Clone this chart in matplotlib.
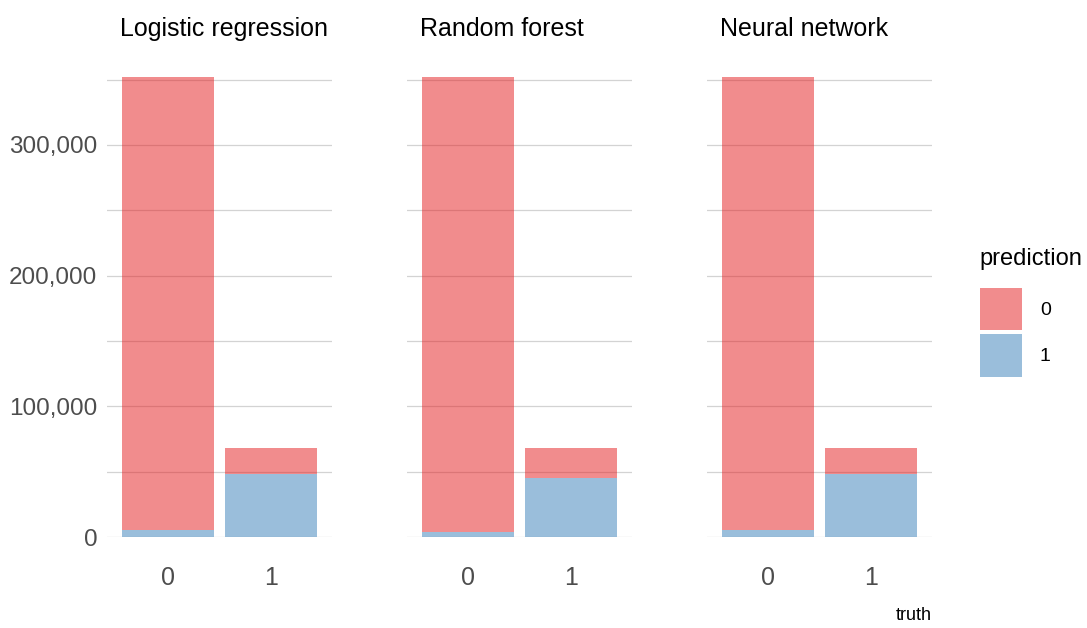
import numpy as np
import matplotlib.pyplot as plt
from matplotlib.patches import Patch
from matplotlib.ticker import FuncFormatter, MultipleLocator

# data
models = ['Logistic regression', 'Random forest', 'Neural network']
truth = ['0', '1']
pred0 = {  # count with prediction = 0, per truth class
    'Logistic regression': [346600, 19700],
    'Random forest': [348500, 22700],
    'Neural network': [346600, 19700],
}
pred1 = {  # count with prediction = 1, per truth class
    'Logistic regression': [5400, 48400],
    'Random forest': [3500, 45400],
    'Neural network': [5400, 48400],
}

RED = (0.894, 0.102, 0.110, 0.5)
BLUE = (0.216, 0.494, 0.722, 0.5)
GRID = '#d3d3d3'
FONT = ['Liberation Sans Narrow', 'Liberation Sans', 'DejaVu Sans']
plt.rcParams['font.family'] = FONT

W, H = 1087, 628
fig = plt.figure(figsize=(W / 100, H / 100), dpi=100)

ymax = 360000
y0_px = 537
px_per = 130.7 / 100000
top_px = y0_px - ymax * px_per
panel_left = [107, 407, 707]
panel_w = 225

x = np.arange(len(truth))
for i, m in enumerate(models):
    ax = fig.add_axes([panel_left[i] / W, 1 - y0_px / H, panel_w / W, (y0_px - top_px) / H])
    ax.bar(x, pred1[m], width=0.9, color=BLUE, linewidth=0, zorder=2)
    ax.bar(x, pred0[m], bottom=pred1[m], width=0.9, color=RED, linewidth=0, zorder=2)
    ax.set_xlim(-0.6, 1.6)
    ax.set_ylim(0, ymax)
    ax.yaxis.set_major_locator(MultipleLocator(100000))
    ax.yaxis.set_minor_locator(MultipleLocator(50000))
    ax.grid(axis='y', which='both', color=GRID, linewidth=0.9, zorder=0)
    ax.set_axisbelow(True)
    for s in ax.spines.values():
        s.set_visible(False)
    ax.tick_params(which='both', length=0)
    ax.set_xticks(x)
    ax.set_xticklabels(truth, fontsize=18, color='#4d4d4d')
    ax.tick_params(axis='x', pad=21)
    if i == 0:
        ax.yaxis.set_major_formatter(FuncFormatter(lambda v, p: f'{int(v):,}'))
        ax.tick_params(axis='y', labelsize=17.5, labelcolor='#4d4d4d', pad=7)
    else:
        ax.set_yticklabels([])
    ax.set_title(m, loc='left', fontsize=18, color='black', pad=22, x=0.06)

fig.text(932 / W, 1 - 615 / H, 'truth', ha='right', va='center', fontsize=13)

handles = [Patch(facecolor=RED, edgecolor='none', label='0'),
           Patch(facecolor=BLUE, edgecolor='none', label='1')]
leg = fig.legend(handles=handles, title='prediction', loc='upper left',
                 bbox_to_anchor=(962 / W, 1 - 230 / H), frameon=False,
                 fontsize=14, title_fontsize=17, handlelength=2.2, handleheight=3.0,
                 handletextpad=0.9, labelspacing=0.2, alignment='left')
leg._legend_box.sep = 13

fig.savefig('out.png', dpi=100)
